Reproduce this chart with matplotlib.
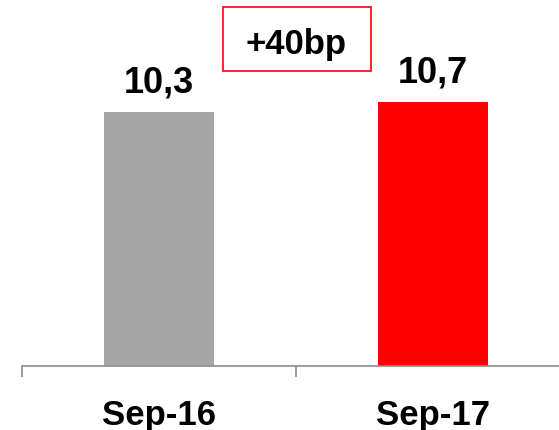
import matplotlib.pyplot as plt
from matplotlib.patches import Rectangle

categories = ['Sep-16', 'Sep-17']
values = [10.3, 10.7]
labels = ['10,3', '10,7']
colors = ['#A6A6A6', '#FF0000']
delta_text = '+40bp'

plt.rcParams['font.family'] = ['Liberation Sans', 'DejaVu Sans']
plt.rcParams['font.weight'] = 'bold'

fig = plt.figure(figsize=(5.59, 4.31), dpi=100)
# axes span category boundaries: left tick at x=22px, right one past the edge
ax = fig.add_axes([22 / 559, 64 / 431, 548 / 559, 367 / 431])

x = range(len(categories))
ax.bar(x, values, width=0.405, color=colors)

for i, v in enumerate(values):
    ax.annotate(labels[i], xy=(i, v), xytext=(0, 15), textcoords='offset points',
                ha='center', va='baseline', fontsize=26, fontweight='bold')

ax.set_xlim(-0.5, 1.5)
ax.set_ylim(0, 14.9)

for s in ['top', 'right', 'left']:
    ax.spines[s].set_visible(False)
ax.spines['bottom'].set_color('#8C8C8C')
ax.spines['bottom'].set_linewidth(1.2)
ax.set_yticks([])

ax.set_xticks(list(x))
ax.set_xticklabels(categories, fontsize=25, fontweight='bold')
ax.tick_params(axis='x', which='major', length=0, pad=23)
ax.set_xticks([-0.5, 0.5, 1.5], minor=True)
ax.tick_params(axis='x', which='minor', length=8, width=1.2, color='#8C8C8C')

# change box at the top
fig.patches.append(Rectangle((223 / 559, 1 - 72 / 431), 148 / 559, 64 / 431,
                             transform=fig.transFigure, fill=False,
                             edgecolor='#FF0000', linewidth=1.2))
fig.text(296 / 559, 1 - 54 / 431, delta_text, ha='center', va='baseline',
         fontsize=25, fontweight='bold')

fig.savefig('out.png', dpi=100)
